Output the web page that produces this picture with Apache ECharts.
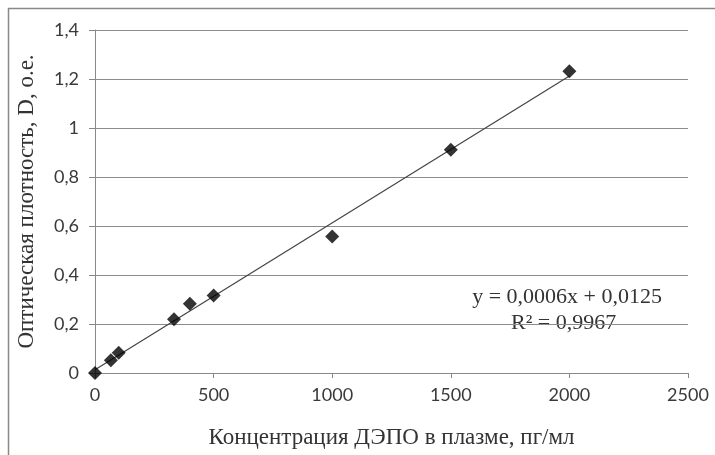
<!DOCTYPE html>
<html><head><meta charset="utf-8">
<script src="https://cdn.jsdelivr.net/npm/echarts@6/dist/echarts.min.js"></script>
<style>html,body{margin:0;padding:0;background:#fff}#c{width:715px;height:455px}</style>
</head><body><div id="c"></div>
<script>
var concentrations = [0, 67, 100, 333, 400, 500, 1000, 1500, 2000];
var densities = [0, 0.052, 0.083, 0.219, 0.283, 0.316, 0.557, 0.911, 1.232];
var xTicks = [0, 500, 1000, 1500, 2000, 2500];
var yTicks = [0, 0.2, 0.4, 0.6, 0.8, 1, 1.2, 1.4];
var equationText = 'y = 0,0006x + 0,0125';
var r2Text = 'R² = 0,9967';
var xTitle = 'Концентрация ДЭПО в плазме, пг/мл';
var yTitle = 'Оптическая плотность, D, о.е.';

// least-squares trendline from the data
var n = concentrations.length, sx = 0, sy = 0, sxx = 0, sxy = 0;
for (var i = 0; i < n; i++) { sx += concentrations[i]; sy += densities[i]; sxx += concentrations[i]*concentrations[i]; sxy += concentrations[i]*densities[i]; }
var slope = (n*sxy - sx*sy) / (n*sxx - sx*sx);
var intercept = (sy - slope*sx) / n;
var xMin = concentrations[0], xMax = concentrations[n-1];
var trend = [[xMin, slope*xMin + intercept], [xMax, slope*xMax + intercept]];

var fmt = function (v) { return String(Math.round(v*10)/10).replace('.', ','); };
var chart = echarts.init(document.getElementById('c'));
chart.setOption({
  animation: false,
  grid: { left: 95, right: 27, top: 30, bottom: 82, containLabel: false },
  xAxis: {
    type: 'value', min: 0, max: 2500, interval: 500,
    name: xTitle, nameLocation: 'middle', nameGap: 53,
    nameTextStyle: { fontFamily: 'Liberation Serif', fontSize: 23, color: '#333' },
    axisLine: { show: true, lineStyle: { color: '#888', width: 1 } },
    axisTick: { show: true, length: 5, lineStyle: { color: '#888' } },
    axisLabel: { fontFamily: 'Lato', fontSize: 18, color: '#3a3a3a', margin: 13, formatter: fmt },
    splitLine: { show: false }
  },
  yAxis: {
    type: 'value', min: 0, max: 1.4, interval: 0.2,
    name: yTitle, nameLocation: 'middle', nameGap: 57, nameRotate: 90,
    nameTextStyle: { fontFamily: 'Liberation Serif', fontSize: 23, color: '#333' },
    axisLine: { show: true, lineStyle: { color: '#888', width: 1 } },
    axisTick: { show: true, length: 6, lineStyle: { color: '#888' } },
    axisLabel: { fontFamily: 'Lato', fontSize: 18, color: '#3a3a3a', margin: 16, formatter: fmt },
    splitLine: { show: true, lineStyle: { color: '#8c8c8c', width: 1.2 } }
  },
  series: [
    { type: 'line', data: trend, symbol: 'none', lineStyle: { color: '#444', width: 1.2 }, z: 2 },
    { type: 'scatter', data: concentrations.map(function (c, i) { return [c, densities[i]]; }),
      symbol: 'diamond', symbolSize: 14, itemStyle: { color: '#000' }, z: 3 }
  ],
  graphic: [
    { type: 'rect', shape: { x: 8.5, y: 8.5, width: 715, height: 460 }, style: { fill: 'none', stroke: '#888', lineWidth: 1.5 }, silent: true },
    { type: 'text', right: 53, top: 286, style: { text: equationText, font: '22px "Liberation Serif"', fill: '#333' } },
    { type: 'text', left: 511, top: 312, style: { text: r2Text, font: '22px "Liberation Serif"', fill: '#333' } }
  ]
});
</script></body></html>
